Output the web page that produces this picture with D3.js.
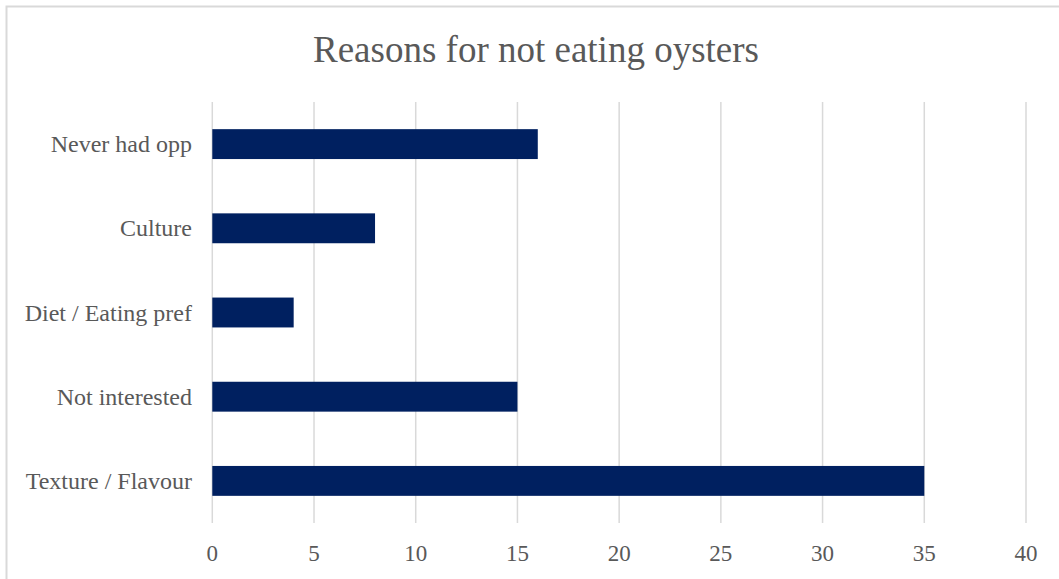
<!DOCTYPE html>
<html lang="en">
<head>
<meta charset="utf-8">
<title>Reasons for not eating oysters</title>
<script src="https://d3js.org/d3.v7.min.js"></script>
<style>
  body { margin: 0; background: #fff; }
  text { font-family: "Liberation Serif", "Times New Roman", serif; fill: #595959; }
</style>
</head>
<body>
<script>
// data
var categories = ["Never had opp", "Culture", "Diet / Eating pref", "Not interested", "Texture / Flavour"];
var counts = [16, 8, 4, 15, 35];
var xTicks = [0, 5, 10, 15, 20, 25, 30, 35, 40];
var title = "Reasons for not eating oysters";

var w = 1059, h = 579;
var margin = {left: 212.3, right: 33, top: 102, bottom: 56};

var svg = d3.select("body").append("svg")
  .attr("width", w)
  .attr("height", h);

// chart border
svg.append("rect")
  .attr("x", 6.5).attr("y", 6.5)
  .attr("width", w + 10).attr("height", h + 10)
  .attr("fill", "none")
  .attr("stroke", "#d9d9d9")
  .attr("stroke-width", 2);

var x = d3.scaleLinear()
  .domain([0, 40])
  .range([margin.left, w - margin.right]);

var y = d3.scaleBand()
  .domain(categories)
  .range([margin.top, h - margin.bottom])
  .paddingInner(0.645)
  .paddingOuter(0.3225);

// grid
svg.append("g").selectAll("line")
  .data(xTicks)
  .enter().append("line")
  .attr("x1", function(d) { return x(d); })
  .attr("x2", function(d) { return x(d); })
  .attr("y1", margin.top)
  .attr("y2", h - margin.bottom)
  .attr("stroke", "#d9d9d9")
  .attr("stroke-width", 1.5);

// bars
svg.append("g").selectAll("rect")
  .data(counts)
  .enter().append("rect")
  .attr("x", x(0))
  .attr("y", function(d, i) { return y(categories[i]); })
  .attr("width", function(d) { return x(d) - x(0); })
  .attr("height", y.bandwidth())
  .attr("fill", "#002060");

// x tick labels
svg.append("g").selectAll("text")
  .data(xTicks)
  .enter().append("text")
  .attr("x", function(d) { return x(d); })
  .attr("y", 561)
  .attr("text-anchor", "middle")
  .attr("font-size", "23px")
  .text(function(d) { return d; });

// category labels
svg.append("g").selectAll("text")
  .data(categories)
  .enter().append("text")
  .attr("x", 192)
  .attr("y", function(d) { return y(d) + y.bandwidth() / 2; })
  .attr("dy", "0.34em")
  .attr("text-anchor", "end")
  .attr("font-size", "24px")
  .text(function(d) { return d; });

// title
svg.append("text")
  .attr("x", 536)
  .attr("y", 62)
  .attr("text-anchor", "middle")
  .attr("font-size", "37px")
  .text(title);
</script>
</body>
</html>
